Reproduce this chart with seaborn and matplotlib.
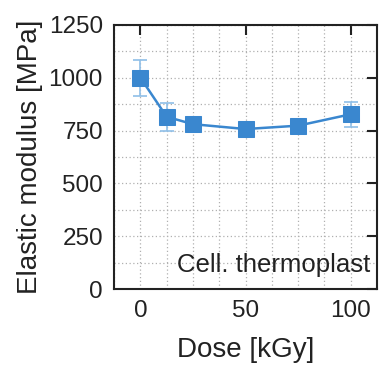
import matplotlib
matplotlib.use("Agg")
import matplotlib.pyplot as plt
import seaborn as sns
import pandas as pd
from matplotlib.ticker import MultipleLocator

dose = [0, 12.5, 25, 50, 75, 100]
modulus = [1000, 815, 780, 757, 773, 827]
err = [85, 65, 15, 12, 20, 60]
x_ticks = [0, 50, 100]
y_ticks = [0, 250, 500, 750, 1000, 1250]

sns.set_style("white")
plt.rcParams['font.family'] = ['Liberation Sans', 'DejaVu Sans']

df = pd.DataFrame({"Dose": dose, "Modulus": modulus})

fig = plt.figure(figsize=(3.79, 3.71), dpi=100)
ax = fig.add_axes([0.301, 0.221, 0.694, 0.712])

color = "#3a87cf"
ax.errorbar(dose, modulus, yerr=err, fmt="none", ecolor="#8fbfe8",
            elinewidth=1.2, capsize=5, capthick=1.2, zorder=2)
sns.lineplot(data=df, x="Dose", y="Modulus", ax=ax, color=color,
             marker="s", markersize=11, markeredgecolor=color,
             linewidth=1.8, zorder=3)

ax.set_xlim(-12.5, 112.5)
ax.set_ylim(0, 1250)
ax.set_xticks(x_ticks)
ax.set_yticks(y_ticks)
ax.xaxis.set_minor_locator(MultipleLocator(12.5))
ax.yaxis.set_minor_locator(MultipleLocator(125))
ax.grid(True, which="both", linestyle=(0, (1, 2)), color="#b0b0b0", linewidth=0.9)
ax.set_axisbelow(True)

ax.tick_params(axis="both", which="major", direction="in", length=7, width=1.5,
               top=True, right=True, labelsize=17.5, colors="#222222", pad=8)
ax.tick_params(axis="both", which="minor", direction="in", length=0,
               top=True, right=True)
for s in ax.spines.values():
    s.set_linewidth(1.5)
    s.set_color("#222222")

ax.set_xlabel("Dose [kGy]", fontsize=20, color="#222222", labelpad=11)
ax.set_ylabel("Elastic modulus [MPa]", fontsize=20, color="#222222", labelpad=4)
ax.text(0.975, 0.09, "Cell. thermoplast", transform=ax.transAxes,
        ha="right", va="center", fontsize=18.5, color="#222222")

fig.savefig("out.png", dpi=100)
